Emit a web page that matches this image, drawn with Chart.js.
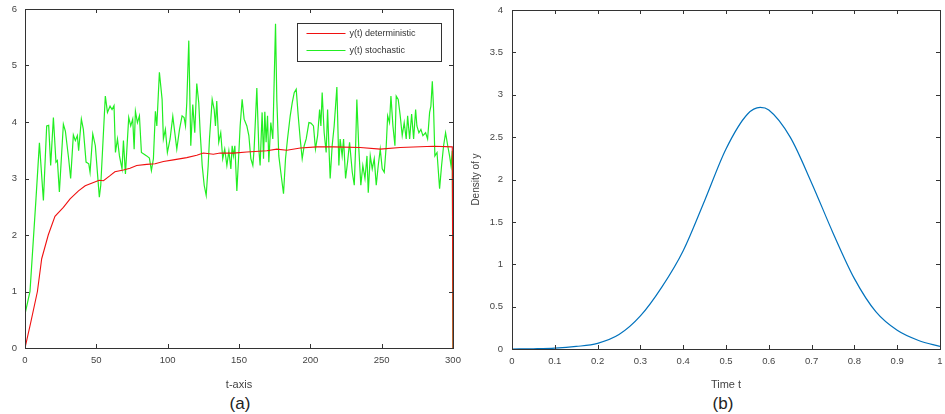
<!DOCTYPE html>
<html>
<head>
<meta charset="utf-8">
<script src="https://cdn.jsdelivr.net/npm/chart.js@4.4.1/dist/chart.umd.min.js"></script>
<style>
html, body { margin: 0; padding: 0; background: #fff; }
body { width: 945px; height: 414px; position: relative; overflow: hidden; font-family: "Liberation Sans", Arial, sans-serif; }
.box { position: absolute; top: 0; height: 392px; }
#wrapA { left: 0; width: 470px; }
#wrapB { left: 470px; width: 475px; }
.cap { position: absolute; top: 394px; width: 60px; font-size: 17px; line-height: 20px; color: #222; text-align: center; }
</style>
</head>
<body>
<div class="box" id="wrapA"><canvas id="chartA"></canvas></div>
<div class="box" id="wrapB"><canvas id="chartB"></canvas></div>
<div class="cap" style="left:210px">(a)</div>
<div class="cap" style="left:693px">(b)</div>
<script>
// (a) deterministic solution
const detT = [0, 4, 8.7, 11.7, 16.3, 21, 26.9, 31.6, 37.5, 42.2, 48, 52, 55, 59.6, 63, 69, 73.6, 78.3, 85.3, 91.2, 97, 104,
  113.4, 120.4, 125, 132, 136.8, 146, 155.5, 169.5, 176.5, 183.5, 193, 204.6, 216, 235, 249, 263, 286.4, 299.5, 300];
const detY = [0, 0.45, 1.0, 1.58, 2.0, 2.33, 2.49, 2.64, 2.78, 2.87, 2.93, 2.97, 2.96, 3.05, 3.12, 3.15, 3.18, 3.23, 3.25, 3.26, 3.30, 3.33,
  3.37, 3.41, 3.45, 3.43, 3.45, 3.45, 3.47, 3.49, 3.52, 3.50, 3.54, 3.56, 3.56, 3.55, 3.52, 3.55, 3.57, 3.56, 0];

// (a) stochastic path
const stoT = [0, 3.5, 7.7, 10.1, 12.9, 15.2, 16.6, 18.0, 19.9, 21.7, 22.7, 24.1, 26.9, 28.3, 30.6, 32.0, 33.9, 35.3, 36.7, 37.6,
  39.5, 40.9, 42.8, 44.7, 45.6, 47.5, 49.3, 52.1, 53.1, 56.3, 57.8, 59.6, 61.0, 62.4, 63.4, 64.8, 66.2, 68.0, 69.0, 70.4,
  72.7, 74.1, 75.5, 76.5, 77.4, 78.8, 80.2, 81.6, 83.5, 85.3, 87.2, 88.6, 90.0, 91.4, 92.4, 94.2, 96.1, 97.0, 98.4, 99.8,
  101.7, 103.6, 105.0, 106.4, 108.3, 110.1, 111.5, 112.5, 113.4, 114.8, 116.2, 117.6, 119.0, 120.4, 121.8, 122.8, 124.2, 125.6, 127.0, 128.4,
  129.3, 131.2, 132.6, 133.5, 134.4, 135.8, 137.2, 138.6, 140.0, 141.5, 142.9, 144.3, 145.2, 146.1, 147.1, 148.5, 149.9, 150.8, 152.2, 153.6,
  155.5, 156.9, 158.3, 159.7, 160.6, 162.5, 163.9, 164.8, 166.2, 167.2, 168.1, 169.0, 170.0, 170.9, 172.3, 173.7, 175.6, 176.5, 177.9, 179.3,
  181.2, 182.6, 184.0, 185.9, 187.3, 188.7, 190.1, 191.5, 192.9, 194.3, 195.7, 197.1, 199.0, 200.4, 202.2, 203.6, 205.1, 206.5, 207.4, 208.3,
  209.7, 211.1, 212.1, 213.0, 213.9, 215.3, 216.7, 218.6, 220.0, 220.9, 222.3, 223.3, 224.7, 226.1, 227.5, 229.4, 230.8, 231.7, 232.6, 234.0,
  235.4, 236.8, 238.3, 239.7, 240.6, 242.0, 243.4, 244.8, 246.2, 247.6, 249.0, 250.4, 251.8, 253.2, 254.2, 255.5, 256.5, 257.9, 259.3, 260.2,
  261.6, 263.0, 264.4, 265.8, 267.2, 268.2, 269.6, 271.0, 272.4, 273.8, 274.7, 276.1, 277.5, 278.9, 280.8, 282.2, 283.6, 284.5, 285.5, 286.4,
  287.3, 288.8, 290.6, 292.0, 293.4, 294.8, 296.3, 297.6, 298.6, 299.5, 300];
const stoY = [0.60, 1.00, 2.64, 3.63, 2.61, 3.93, 3.94, 3.23, 4.08, 3.29, 3.32, 2.76, 3.96, 3.84, 3.35, 3.00, 3.77, 3.67, 3.76, 3.49,
  4.05, 3.87, 3.29, 3.26, 3.11, 3.79, 3.58, 2.67, 2.88, 4.46, 4.17, 4.28, 4.22, 4.29, 3.46, 3.70, 3.40, 3.17, 3.67, 3.08,
  4.08, 3.93, 4.05, 3.52, 4.19, 3.99, 4.11, 3.46, 3.43, 3.40, 3.36, 3.14, 3.35, 4.19, 3.93, 4.88, 4.40, 3.70, 3.87, 3.46,
  3.70, 4.10, 3.81, 3.52, 3.87, 4.11, 4.08, 3.93, 4.34, 5.44, 3.58, 4.31, 3.81, 4.68, 4.34, 3.81, 3.23, 2.88, 2.70, 3.23,
  3.70, 4.40, 4.22, 3.93, 4.37, 3.64, 3.81, 3.35, 3.52, 3.23, 3.49, 3.17, 3.58, 3.40, 3.58, 2.78, 3.46, 3.93, 4.40, 4.05,
  3.93, 3.76, 3.35, 3.23, 3.52, 4.60, 3.52, 3.23, 4.17, 3.35, 4.18, 3.64, 4.11, 3.29, 3.99, 3.70, 5.74, 4.40, 3.40, 3.11,
  2.73, 3.35, 3.70, 4.11, 4.34, 4.52, 4.58, 4.11, 3.70, 3.35, 3.58, 3.70, 3.99, 3.98, 3.93, 3.52, 3.76, 4.22, 3.93, 4.52,
  3.81, 3.46, 4.22, 3.58, 3.00, 3.58, 3.93, 4.62, 3.23, 3.70, 3.40, 3.70, 3.00, 3.29, 3.64, 3.11, 2.88, 3.52, 4.40, 3.52,
  2.88, 3.23, 3.00, 3.40, 2.75, 3.40, 3.17, 3.35, 2.88, 3.23, 3.52, 3.17, 3.11, 3.58, 4.11, 3.99, 4.46, 3.93, 3.58, 4.46,
  4.40, 4.11, 3.76, 3.99, 3.70, 4.11, 3.70, 4.14, 3.70, 4.22, 3.93, 3.81, 3.87, 3.76, 3.81, 3.70, 4.17, 4.28, 4.72, 4.22,
  3.40, 3.46, 2.82, 3.23, 3.58, 3.81, 3.58, 3.40, 3.23, 3.49, 0];

// (b) density of y
const denT = [0, 0.05, 0.1, 0.15, 0.2, 0.25, 0.3, 0.35, 0.4, 0.45, 0.5, 0.55, 0.58, 0.6, 0.65, 0.7, 0.75, 0.8, 0.85, 0.9, 0.95, 1];
const denY = [0, 0.003, 0.01, 0.03, 0.067, 0.17, 0.39, 0.73, 1.16, 1.75, 2.36, 2.77, 2.85, 2.82, 2.50, 1.96, 1.37, 0.83, 0.44, 0.22, 0.10, 0.03];

const seriesNames = ['y(t) deterministic', 'y(t) stochastic'];
const titleA = 't-axis';
const titleBx = 'Time t';
const titleBy = 'Density of y';

function pairs(xs, ys) { return xs.map((x, i) => ({ x: x, y: ys[i] })); }

// plain number labels: 1 not 1.0
function plainTick(v) { return String(Number(v.toFixed(3))); }

const tickColor = '#444';

// box around the plot with inward ticks on all four sides
const framePlugin = {
    id: 'frame',
    afterDraw(chart) {
        const ctx = chart.ctx, a = chart.chartArea, sx = chart.scales.x, sy = chart.scales.y;
        ctx.save();
        ctx.strokeStyle = '#333';
        ctx.lineWidth = 1;
        ctx.strokeRect(Math.round(a.left) + 0.5, Math.round(a.top) + 0.5, Math.round(a.right - a.left), Math.round(a.bottom - a.top));
        ctx.beginPath();
        sx.ticks.forEach(t => {
            const px = Math.round(sx.getPixelForValue(t.value)) + 0.5;
            ctx.moveTo(px, a.bottom); ctx.lineTo(px, a.bottom - 4);
            ctx.moveTo(px, a.top); ctx.lineTo(px, a.top + 4);
        });
        sy.ticks.forEach(t => {
            const py = Math.round(sy.getPixelForValue(t.value)) + 0.5;
            ctx.moveTo(a.left, py); ctx.lineTo(a.left + 4, py);
            ctx.moveTo(a.right, py); ctx.lineTo(a.right - 4, py);
        });
        ctx.stroke();
        ctx.restore();
    }
};

// legend box in the upper right corner of plot (a)
const boxLegend = {
    id: 'boxLegend',
    afterDraw(chart) {
        const ctx = chart.ctx, a = chart.chartArea;
        const x0 = Math.round(a.right) - 156 + 0.5, y0 = Math.round(a.top) + 14 + 0.5;
        ctx.save();
        ctx.fillStyle = '#fff';
        ctx.fillRect(x0, y0, 144, 38);
        ctx.strokeStyle = '#333';
        ctx.lineWidth = 1;
        ctx.strokeRect(x0, y0, 144, 38);
        ctx.font = '9px "Liberation Sans", Arial, sans-serif';
        ctx.textBaseline = 'middle';
        chart.data.datasets.forEach((ds, i) => {
            const yy = y0 + 10 + i * 17;
            ctx.strokeStyle = ds.borderColor;
            ctx.lineWidth = 1.2;
            ctx.beginPath();
            ctx.moveTo(x0 + 9, yy); ctx.lineTo(x0 + 48, yy);
            ctx.stroke();
            ctx.fillStyle = '#333';
            ctx.fillText(ds.label, x0 + 52, yy);
        });
        ctx.restore();
    }
};

function fixScale(w, h) {
    return function (s) {
        if (w !== null) s.width = w;
        if (h !== null) s.height = h;
        s.paddingLeft = 0; s.paddingRight = 0; s.paddingTop = 0; s.paddingBottom = 0;
    };
}

const tickFont = { family: '"Liberation Sans", Arial, sans-serif', size: 9.5 };
const titleFont = { family: '"Liberation Sans", Arial, sans-serif', size: 11 };

new Chart(document.getElementById('chartA'), {
    type: 'line',
    data: {
        datasets: [
            { label: seriesNames[0], data: pairs(detT, detY), borderColor: '#f01010', borderWidth: 1.1, pointRadius: 0, tension: 0 },
            { label: seriesNames[1], data: pairs(stoT, stoY), borderColor: '#22ee22', borderWidth: 1.2, pointRadius: 0, tension: 0 }
        ]
    },
    options: {
        responsive: true,
        maintainAspectRatio: false,
        animation: false,
        layout: { padding: { left: 0, top: 9, right: 17, bottom: 0 } },
        plugins: { legend: { display: false }, tooltip: { enabled: false } },
        scales: {
            x: {
                type: 'linear', min: 0, max: 300,
                grid: { display: false, drawTicks: false },
                border: { display: false },
                ticks: { stepSize: 50, color: tickColor, font: tickFont, padding: 7, maxRotation: 0, autoSkip: false, callback: plainTick },
                title: { display: true, text: titleA, color: tickColor, font: titleFont, padding: { top: 4, bottom: 0 } },
                afterFit: fixScale(null, 44)
            },
            y: {
                min: 0, max: 6,
                grid: { display: false, drawTicks: false },
                border: { display: false },
                ticks: { stepSize: 1, color: tickColor, font: tickFont, padding: 8, callback: plainTick },
                afterFit: fixScale(25, null)
            }
        }
    },
    plugins: [framePlugin, boxLegend]
});

new Chart(document.getElementById('chartB'), {
    type: 'line',
    data: {
        datasets: [
            { label: titleBy, data: pairs(denT, denY), borderColor: '#0072bd', borderWidth: 1.2, pointRadius: 0, cubicInterpolationMode: 'monotone' }
        ]
    },
    options: {
        responsive: true,
        maintainAspectRatio: false,
        animation: false,
        layout: { padding: { left: 0, top: 10, right: 5, bottom: 0 } },
        plugins: { legend: { display: false }, tooltip: { enabled: false } },
        scales: {
            x: {
                type: 'linear', min: 0, max: 1,
                grid: { display: false, drawTicks: false },
                border: { display: false },
                ticks: { stepSize: 0.1, color: tickColor, font: tickFont, padding: 7, maxRotation: 0, autoSkip: false, callback: plainTick },
                title: { display: true, text: titleBx, color: tickColor, font: titleFont, padding: { top: 3, bottom: 0 } },
                afterFit: fixScale(null, 43)
            },
            y: {
                min: 0, max: 4,
                grid: { display: false, drawTicks: false },
                border: { display: false },
                ticks: { stepSize: 0.5, color: tickColor, font: tickFont, padding: 9, callback: plainTick },
                title: { display: true, text: titleBy, color: tickColor, font: { family: '"Liberation Sans", Arial, sans-serif', size: 10 }, padding: 0 },
                afterFit: fixScale(42, null)
            }
        }
    },
    plugins: [framePlugin]
});
</script>
</body>
</html>
